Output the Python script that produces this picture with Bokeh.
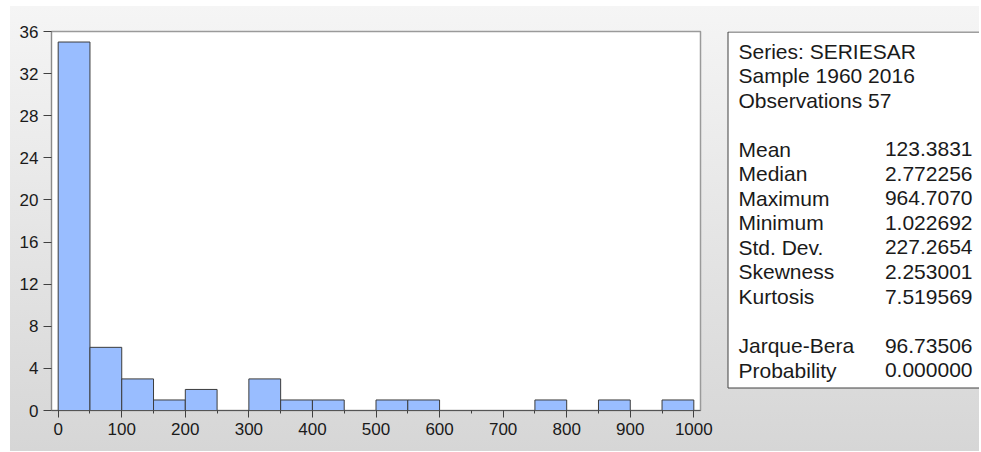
from bokeh.plotting import figure
from bokeh.models import Range1d, SingleIntervalTicker, ColumnDataSource
from bokeh.layouts import row
from bokeh.core.properties import value
from bokeh.embed import file_html
from bokeh.resources import INLINE

# ---- data ----
bin_edges = [0, 50, 100, 150, 200, 250, 300, 350, 400, 450, 500,
             550, 600, 650, 700, 750, 800, 850, 900, 950, 1000]
counts = [35, 6, 3, 1, 2, 0, 3, 1, 1, 0, 1, 1, 0, 0, 0, 1, 0, 1, 0, 1]

header_lines = ["Series: SERIESAR", "Sample 1960 2016", "Observations 57"]
stat_labels = ["Mean", "Median", "Maximum", "Minimum", "Std. Dev.",
               "Skewness", "Kurtosis"]
stat_values = ["123.3831", "2.772256", "964.7070", "1.022692", "227.2654",
               "2.253001", "7.519569"]
test_labels = ["Jarque-Bera", "Probability"]
test_values = ["96.73506", "0.000000"]

FONT = "Liberation Sans"
TXT = "#1a1a1a"

# layout (page pixels)
ROW_X, ROW_Y = 10, 6
ROW_H = 445
FRAME_L, FRAME_R, FRAME_T, FRAME_B = 51, 700, 31, 410
Q_X0 = 721
Q_W = 258

# ---- histogram ----
left = [bin_edges[i] for i in range(len(counts)) if counts[i] > 0]
right = [bin_edges[i + 1] for i in range(len(counts)) if counts[i] > 0]
top = [c for c in counts if c > 0]
src = ColumnDataSource(dict(left=left, right=right, top=top, bottom=[0] * len(top)))

p = figure(width=Q_X0 - ROW_X, height=ROW_H, output_backend="svg", toolbar_location=None,
           x_range=Range1d(-10.5, 1010.5), y_range=Range1d(0, 36),
           min_border_left=FRAME_L - ROW_X, min_border_right=Q_X0 - FRAME_R,
           min_border_top=FRAME_T - ROW_Y,
           min_border_bottom=ROW_Y + ROW_H - FRAME_B)
p.border_fill_color = None
p.background_fill_color = "white"
p.outline_line_color = "#9a9a9a"
p.outline_line_width = 1.5
p.xgrid.visible = False
p.ygrid.visible = False

p.quad(left="left", right="right", top="top", bottom="bottom", source=src,
       fill_color="#99bdff", line_color="#3c3c3c", line_width=1)

p.xaxis.ticker = SingleIntervalTicker(interval=100, num_minor_ticks=2)
p.yaxis.ticker = SingleIntervalTicker(interval=4, num_minor_ticks=0)
for ax in (p.xaxis[0], p.yaxis[0]):
    ax.major_label_text_font = FONT
    ax.major_label_text_font_size = "17px"
    ax.major_label_text_color = TXT
    ax.major_tick_in = 0
    ax.minor_tick_in = 0
    ax.major_tick_line_color = "#404040"
    ax.minor_tick_line_color = "#404040"
p.xaxis.major_tick_out = 7
p.xaxis.minor_tick_out = 3
p.xaxis.major_label_standoff = 5
p.xaxis.axis_line_color = "#555555"
p.yaxis.major_tick_out = 8
p.yaxis.minor_tick_line_color = None
p.yaxis.major_label_standoff = 5
p.yaxis.axis_line_color = "#8a8a8a"

# ---- statistics box (its frame lines up with the histogram frame) ----
q = figure(width=Q_W, height=ROW_H, output_backend="svg", toolbar_location=None,
           x_range=Range1d(Q_X0, Q_X0 + Q_W), y_range=Range1d(FRAME_B, FRAME_T),
           x_axis_location=None, y_axis_location=None,
           min_border_left=0, min_border_right=0,
           min_border_top=FRAME_T - ROW_Y,
           min_border_bottom=ROW_Y + ROW_H - FRAME_B)
q.border_fill_color = None
q.background_fill_color = None
q.outline_line_color = None
q.xgrid.visible = False
q.ygrid.visible = False

q.quad(left=[727.5], right=[1005], top=[31.5], bottom=[387.5],
       fill_color="white", line_color="#404040", line_width=1)

step = 24.55
y0 = 50.5
label_x = 738
value_x = 972

rows_left = header_lines + [""] + stat_labels + [""] + test_labels
rows_right = ["", "", "", ""] + stat_values + [""] + test_values
ys = [y0 + step * i for i in range(len(rows_left))]

q.text(x=[label_x] * len(rows_left), y=ys, text=rows_left,
       text_font=value(FONT), text_font_size="21px", text_color=TXT,
       text_baseline="middle", text_align="left")
q.text(x=[value_x] * len(rows_right), y=ys, text=rows_right,
       text_font=value(FONT), text_font_size="21px", text_color=TXT,
       text_baseline="middle", text_align="right")

layout = row(p, q, spacing=0, margin=(ROW_Y, 0, 0, ROW_X),
             styles={"background": "linear-gradient(180deg, #f5f5f5 0%, #d6d6d6 100%)"})

open("out.html", "w").write(file_html(layout, INLINE))
